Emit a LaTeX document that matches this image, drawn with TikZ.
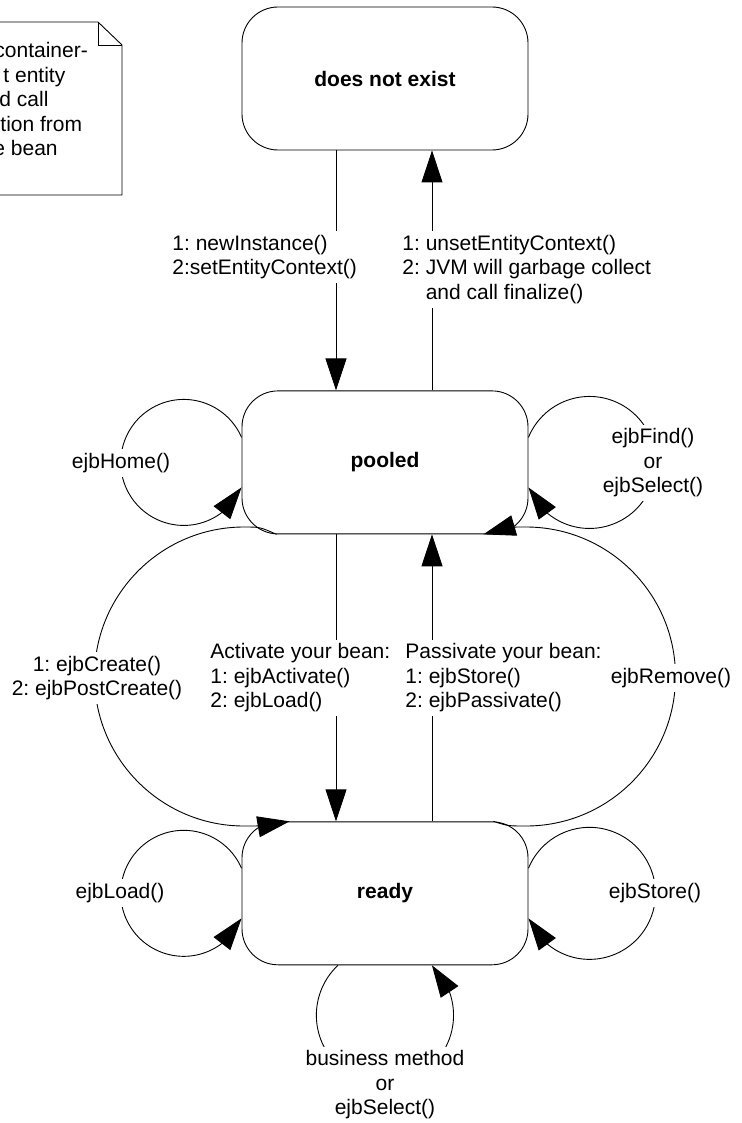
\documentclass[tikz,border=0pt]{standalone}
\usepackage{fontspec}
\setmainfont{Liberation Sans}
\usetikzlibrary{positioning,arrows.meta,bending}
\frenchspacing
\newcommand{\dgfont}{\fontsize{21pt}{24.5pt}\selectfont}
\tikzset{  lstate/.style={draw,rounded corners=36pt,minimum width=286pt,minimum height=143pt,font=\dgfont\bfseries},
  lbl/.style={fill=white,inner sep=4pt,align=left,font=\dgfont},
  trans/.style={-{Triangle[length=32pt,width=21pt]}} }

\begin{document}
\begin{tikzpicture}[x=1pt,y=1pt,line width=0.9pt]
  \useasboundingbox (0,-1123) rectangle (741,0);
  \node[lstate] (gone) at (385,-78.5) {does not exist};
  \node[lstate,below=240pt of gone] (pooled) {pooled};
  \node[lstate,below=287pt of pooled] (ready) {ready};
  % note in the corner
  \draw (-10,-22) -- (98,-22) -- (122,-45) -- (122,-195) -- (-10,-195);
  \draw (98,-22) -- (98,-45) -- (122,-45);
  \node[font=\dgfont,align=left,anchor=west,inner sep=0pt] (note) at (0,-99)
    {\hspace*{-6pt}container-\\\hspace*{3pt}t entity\\\hspace*{-1pt}d call\\tion from\\\hspace*{-7pt}e bean};
  % creation and removal
  \draw[trans] ([xshift=-49pt]gone.south) -- ([xshift=-49pt]pooled.north);
  \draw[trans] ([xshift=47pt]pooled.north) -- ([xshift=47pt]gone.south);
  % activation and passivation
  \draw[trans] ([xshift=-49pt]pooled.south) -- ([xshift=-49pt]ready.north);
  \draw[trans] ([xshift=47pt]ready.north) -- ([xshift=47pt]pooled.south);
  % create and remove
  \draw[trans] ([xshift=35pt]pooled.south west) .. controls (260,-527) .. (244,-527)
    arc[start angle=90,end angle=270,radius=149.5] .. controls (266,-826) .. ([xshift=48pt]ready.north west);
  \draw[trans] ([xshift=-35pt]ready.north east) .. controls (508,-826) .. (526,-826)
    arc[start angle=-90,end angle=90,radius=149.5] .. controls (505,-527) .. ([xshift=-45pt]pooled.south east);
  % self loops
  \draw[trans] ([yshift=25pt]pooled.west) arc[start angle=23.4,end angle=336.6,radius=63];
  \draw[trans] ([yshift=25pt]pooled.east) arc[start angle=157.7,end angle=-157.7,radius=66];
  \draw[trans] ([yshift=25pt]ready.west) arc[start angle=23.4,end angle=336.6,radius=63];
  \draw[trans] ([yshift=25pt]ready.east) arc[start angle=157.7,end angle=-157.7,radius=66];
  \draw[trans] ([xshift=-47pt]ready.south) arc[start angle=133.2,end angle=406.8,radius=68.6];
  % labels
  \node[lbl,anchor=west] (lnew) at (168,-257) {1: newInstance()\\2:setEntityContext()};
  \node[lbl,anchor=west] (lunset) at (398,-269.5)
    {1: unsetEntityContext()\\2: JVM will garbage collect\\\phantom{2: }and call finalize()};
  \node[lbl,anchor=west] (lact) at (206,-678) {Activate your bean:\\1: ejbActivate()\\2: ejbLoad()};
  \node[lbl,anchor=west] (lpass) at (401,-678) {Passivate your bean:\\1: ejbStore()\\2: ejbPassivate()};
  \node[lbl,align=center] (lhome) at (121,-463) {ejbHome()};
  \node[lbl,align=center] (lfind) at (653,-463) {ejbFind()\\or\\ejbSelect()};
  \node[lbl,align=center] (lcreate) at (97,-678) {1: ejbCreate()\\2: ejbPostCreate()};
  \node[lbl,align=center] (lremove) at (671,-678) {ejbRemove()};
  \node[lbl,align=center] (lload) at (120,-893) {ejbLoad()};
  \node[lbl,align=center] (lstore) at (655,-893) {ejbStore()};
  \node[lbl,align=center] (lbiz) at (385,-1085) {business method\\or\\ejbSelect()};
\end{tikzpicture}
\end{document}
